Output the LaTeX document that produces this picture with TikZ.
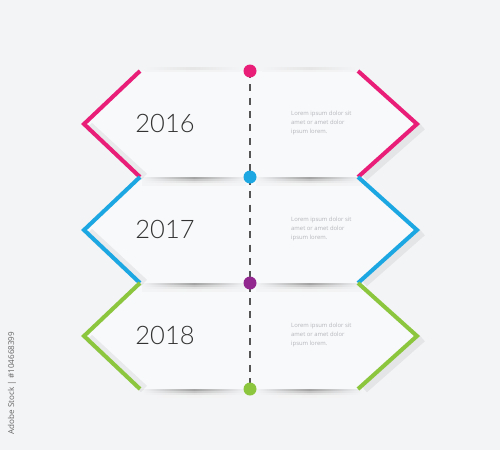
\documentclass[tikz,border=0pt]{standalone}
\usepackage{fontspec}
\setmainfont{Open Sans}
\newfontfamily\yearfont{Lato Light}
\definecolor{bgcol}{HTML}{F3F4F6}
\definecolor{cardcol}{HTML}{F8F9FA}
\definecolor{pinkcol}{HTML}{E91E78}
\definecolor{bluecol}{HTML}{1DA7E2}
\definecolor{greencol}{HTML}{8CC63F}
\definecolor{purplecol}{HTML}{92278F}
\definecolor{dashcol}{HTML}{555555}
\definecolor{loremcol}{HTML}{B3B6BB}

\begin{document}
\begin{tikzpicture}[x=0.02cm, y=-0.02cm,
    card/.style={fill=cardcol},
    edge/.style={line width=2.3pt, line join=miter},
    shade/.style={left color=bgcol, right color=bgcol, middle color=black!#1},
    dot/.style={circle, fill=#1, inner sep=0pt, minimum size=0.26cm},
    year/.style={font=\yearfont\fontsize{14.5}{18}\selectfont, text=black!80},
    lorem/.style={font=\fontsize{3.35}{5.1}\selectfont, text=loremcol, align=left, anchor=west}
]

% Background
\fill[bgcol] (0,0) rectangle (500,450);
\useasboundingbox (0,0) rectangle (500,450);

% Draw cards
\foreach \t in {71,177,283} {
    \pgfmathsetmacro\m{\t+53}
    \pgfmathsetmacro\b{\t+106}
    \fill[card] (140,\t) -- (84,\m) -- (140,\b) -- (250,\b) -- (250,\t) -- cycle;
    \fill[card] (250,\t) -- (358,\t) -- (417,\m) -- (358,\b) -- (250,\b) -- cycle;
}

% Faint shadow above the first row
\foreach \k/\s in {0/5, 2/10} {
    \fill[shade=\s] (145,69-\k) rectangle (240,71-\k);
    \fill[shade=\s] (262,69-\k) rectangle (356,71-\k);
}

% Shadows, strokes and texts of each row
\foreach \i/\t/\col/\yr in {1/71/pinkcol/2016, 2/177/bluecol/2017, 3/283/greencol/2018} {
    \pgfmathsetmacro\m{\t+53}
    \pgfmathsetmacro\b{\t+106}
    % shadows under the cards
    \foreach \k/\s in {0/36, 2/23, 4/12, 6/5} {
        \fill[shade=\s] (142,\b+\k) rectangle (246,\b+\k+2);
        \fill[shade=\s] (256,\b+\k) rectangle (362,\b+\k+2);
    }
    \draw[black, opacity=0.06, line width=5pt] (89,\m+2) -- (144,\b);
    \draw[black, opacity=0.06, line width=5pt] (422,\m+2) -- (364,\b);
    % coloured edges
    \draw[edge, \col] (140,\t) -- (84,\m) -- (140,\b);
    \draw[edge, \col] (358,\t) -- (417,\m) -- (358,\b);
    % texts
    \node[year] (year\i) at (165,\m-1) {\yr};
    \node[lorem] (lorem\i) at (285,\m-1) {Lorem ipsum dolor sit\\amet or amet dolor\\ipsum lorem.};
}

% Timeline
\coordinate (d1) at (250,71);
\coordinate (d2) at (250,177);
\coordinate (d3) at (250,283);
\coordinate (d4) at (250,389);
\draw[dashcol, line width=1.1pt, dash pattern=on 4pt off 3.6pt] (d1) -- (d4);
\node[dot=pinkcol] (dot1) at (d1) {};
\node[dot=bluecol] (dot2) at (d2) {};
\node[dot=purplecol] (dot3) at (d3) {};
\node[dot=greencol] (dot4) at (d4) {};

\node[rotate=90, font=\fontsize{4.6}{5}\selectfont, text=black!60] (stock) at (12,383) {Adobe Stock | \#104668399};

\end{tikzpicture}
\end{document}
